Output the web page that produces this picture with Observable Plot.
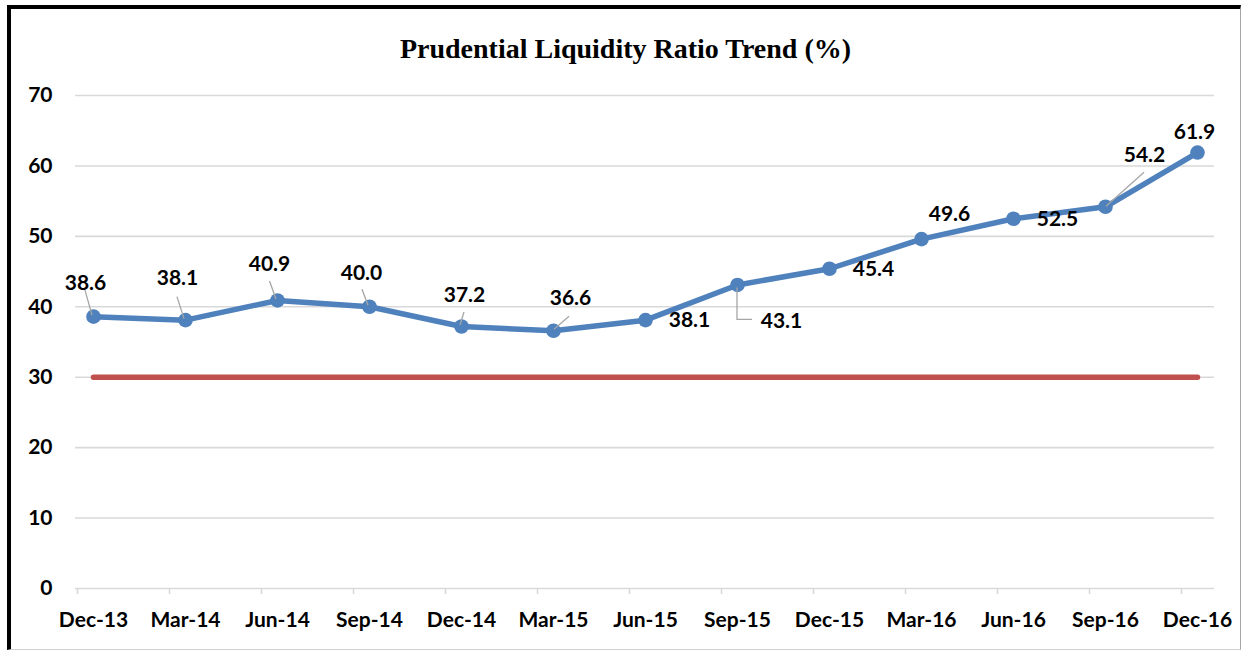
<!DOCTYPE html>
<html>
<head>
<meta charset="utf-8">
<script src="https://cdn.jsdelivr.net/npm/d3@7"></script>
<script src="https://cdn.jsdelivr.net/npm/@observablehq/plot@0.6"></script>
<style>
  html, body { margin: 0; padding: 0; background: #fff; width: 1245px; height: 652px; overflow: hidden; }
  #frame { position: absolute; left: 7px; top: 5px; width: 1234px; height: 645px; box-sizing: border-box;
    border-top: 4px solid #000; border-left: 4px solid #000; border-right: 1px solid #a6a6a6; border-bottom: 1px solid #d0d0d0;
    pointer-events: none; }
  #title { position: absolute; left: 11px; width: 1229px; top: 33px; text-align: center;
    font-family: "Liberation Serif", "Times New Roman", serif; font-weight: bold; font-size: 28px; line-height: 32px; color: #000; margin: 0; }
  #chart { position: absolute; left: 0; top: 75px; }
</style>
</head>
<body>
<div id="frame"></div>
<h1 id="title">Prudential Liquidity Ratio Trend (%)</h1>
<div id="chart"></div>
<script>
// ---- data ----
const periods = ["Dec-13","Mar-14","Jun-14","Sep-14","Dec-14","Mar-15","Jun-15","Sep-15","Dec-15","Mar-16","Jun-16","Sep-16","Dec-16"];
const liquidityRatio = [38.6, 38.1, 40.9, 40.0, 37.2, 36.6, 38.1, 43.1, 45.4, 49.6, 52.5, 54.2, 61.9];
const minimumRatio = [30, 30, 30, 30, 30, 30, 30, 30, 30, 30, 30, 30, 30];
const yTicks = [0, 10, 20, 30, 40, 50, 60, 70];

// ---- label layout (pixel offsets relative to each point) ----
const labelLayout = [
  {dx: -8, dy: -33, leader: [[-8, -26], [-1, -1]]},
  {dx: -8, dy: -42, leader: [[-8, -23], [-1, -1]]},
  {dx: -8, dy: -36, leader: [[-7.5, -19], [-1, -1]]},
  {dx: -8, dy: -34, leader: [[-7, -17], [-1, -1]]},
  {dx: 3, dy: -31, leader: [[3, -14], [-1, -1]]},
  {dx: 17, dy: -32, leader: [[16, -14], [1, -1]]},
  {dx: 44, dy: 0},
  {dx: 44, dy: 36, leader: [[0, 3], [0, 35], [15, 35]]},
  {dx: 44, dy: 1},
  {dx: 28, dy: -25},
  {dx: 44, dy: 1},
  {dx: 39, dy: -52, leader: [[39, -34], [1, 0]]},
  {dx: -3, dy: -20}
];

const rows = periods.map((p, i) => ({period: p, value: liquidityRatio[i], minimum: minimumRatio[i], i}));

const BLUE = "#4F81BD", RED = "#C0504D", GRID = "#d9d9d9";

const labelMarks = rows.map((r, i) => Plot.text([r], {
  x: "period", y: "value", text: d => d.value.toFixed(1),
  dx: labelLayout[i].dx, dy: labelLayout[i].dy,
  fill: "#000", fontSize: 21, fontWeight: "bold"
}));

function leaders(index, scales) {
  const g = d3.create("svg:g").attr("fill", "none").attr("stroke", "#a6a6a6").attr("stroke-width", 1.3);
  rows.forEach((r, i) => {
    const L = labelLayout[i].leader;
    if (!L) return;
    const px = scales.x(r.period), py = scales.y(r.value);
    g.append("polyline").attr("points", L.map(([a, b]) => `${px + a},${py + b}`).join(" "));
  });
  return g.node();
}

const chart = Plot.plot({
  width: 1245,
  height: 577,
  marginLeft: 75,
  marginRight: 31,
  marginTop: 20,
  marginBottom: 64,
  style: {fontFamily: "Lato, 'Open Sans', sans-serif", fontSize: "21px", fontWeight: "bold", color: "#000", background: "transparent", overflow: "visible"},
  x: {type: "point", domain: periods, padding: 0.173, label: null},
  y: {domain: [0, 70], label: null},
  marks: [
    Plot.ruleY(yTicks, {stroke: GRID, strokeWidth: 1.6}),
    Plot.axisX({tickSize: 6, tickFormat: () => "", dx: -16, stroke: GRID, strokeWidth: 1.6, label: null}),
    Plot.axisX({tickSize: 0, tickPadding: 24, label: null, fill: "#000"}),
    Plot.axisY(yTicks, {tickSize: 0, tickPadding: 23, label: null, fill: "#000"}),
    Plot.line(rows, {x: "period", y: "minimum", stroke: RED, strokeWidth: 5.5, strokeLinecap: "round"}),
    Plot.line(rows, {x: "period", y: "value", stroke: BLUE, strokeWidth: 5.5, strokeLinejoin: "round", strokeLinecap: "round"}),
    Plot.dot(rows, {x: "period", y: "value", r: 7.3, fill: BLUE, stroke: "none"}),
    leaders,
    ...labelMarks
  ]
});
document.getElementById("chart").appendChild(chart);
</script>
</body>
</html>
